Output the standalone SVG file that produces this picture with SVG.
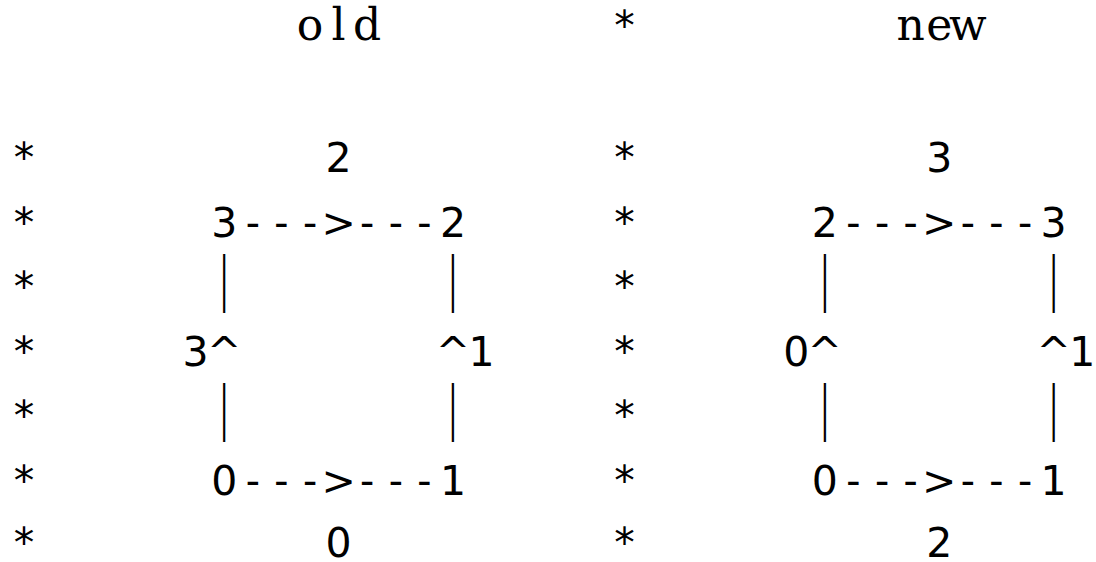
<svg xmlns="http://www.w3.org/2000/svg" width="1096" height="562" viewBox="0 0 1096 562">
<style>
  text { fill: #000; }
  .t { font-family: "DejaVu Serif", "Liberation Serif", serif; font-size: 44px; text-anchor: middle; }
  .c { font-family: "DejaVu Sans", "Liberation Sans", sans-serif; font-size: 41px; text-anchor: middle; }
  .d { font-family: "DejaVu Sans Mono", monospace; }
  .bar { font-family: "DejaVu Sans", "Liberation Sans", sans-serif; font-size: 58px; text-anchor: middle; }
</style>
<rect width="1096" height="562" fill="#fff"/>
<g id="margin">
  <text class="c" x="24" y="172">*</text>
  <text class="c" x="24" y="237">*</text>
  <text class="c" x="24" y="301">*</text>
  <text class="c" x="24" y="366">*</text>
  <text class="c" x="24" y="430">*</text>
  <text class="c" x="24" y="495">*</text>
  <text class="c" x="24" y="557">*</text>
</g>
<g id="separator">
  <text class="c" x="624.6" y="40">*</text>
  <text class="c" x="624.6" y="172">*</text>
  <text class="c" x="624.6" y="237">*</text>
  <text class="c" x="624.6" y="301">*</text>
  <text class="c" x="624.6" y="366">*</text>
  <text class="c" x="624.6" y="430">*</text>
  <text class="c" x="624.6" y="495">*</text>
  <text class="c" x="624.6" y="557">*</text>
</g>
<g id="old">
  <text class="t" x="310 338.6 367.2" y="40">old</text>
  <text class="c" x="338.6" y="172">2</text>
  <text class="c" x="224.2 252.8 281.4 310 338.6 367.2 395.8 424.4 453" y="237">3<tspan class="d">---</tspan>&gt;<tspan class="d">---</tspan>2</text>
  <text class="bar" transform="translate(224.2 299) scale(0.45 1)">|</text>
  <text class="bar" transform="translate(453 299) scale(0.45 1)">|</text>
  <text class="c" x="195.6 224.2" y="366">3^</text>
  <text class="c" x="453 481.6" y="366">^1</text>
  <text class="bar" transform="translate(224.2 428) scale(0.45 1)">|</text>
  <text class="bar" transform="translate(453 428) scale(0.45 1)">|</text>
  <text class="c" x="224.2 252.8 281.4 310 338.6 367.2 395.8 424.4 453" y="495">0<tspan class="d">---</tspan>&gt;<tspan class="d">---</tspan>1</text>
  <text class="c" x="338.6" y="557">0</text>
</g>
<g id="new">
  <text class="t" x="910.6 939.2 967.8" y="40">new</text>
  <text class="c" x="939.2" y="172">3</text>
  <text class="c" x="824.8 853.4 882 910.6 939.2 967.8 996.4 1025 1053.6" y="237">2<tspan class="d">---</tspan>&gt;<tspan class="d">---</tspan>3</text>
  <text class="bar" transform="translate(824.8 299) scale(0.45 1)">|</text>
  <text class="bar" transform="translate(1053.6 299) scale(0.45 1)">|</text>
  <text class="c" x="796.2 824.8" y="366">0^</text>
  <text class="c" x="1053.6 1082.2" y="366">^1</text>
  <text class="bar" transform="translate(824.8 428) scale(0.45 1)">|</text>
  <text class="bar" transform="translate(1053.6 428) scale(0.45 1)">|</text>
  <text class="c" x="824.8 853.4 882 910.6 939.2 967.8 996.4 1025 1053.6" y="495">0<tspan class="d">---</tspan>&gt;<tspan class="d">---</tspan>1</text>
  <text class="c" x="939.2" y="557">2</text>
</g>
<g id="connectors"></g>
</svg>
